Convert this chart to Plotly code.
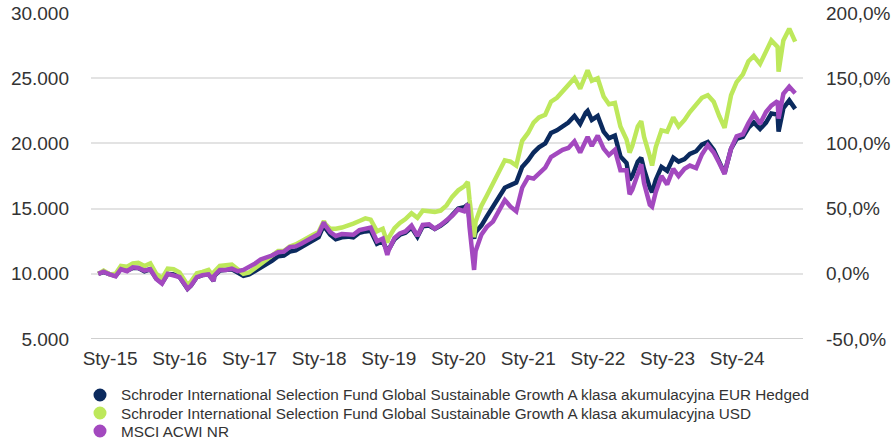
import plotly.graph_objects as go

dates = [
    "2014-10-31", "2014-11-28", "2014-12-31",
    "2015-01-30", "2015-02-27", "2015-03-31", "2015-04-30", "2015-05-29", "2015-06-30",
    "2015-07-31", "2015-08-31", "2015-09-30", "2015-10-30", "2015-11-30", "2015-12-31",
    "2016-01-29", "2016-02-11", "2016-02-29", "2016-03-31", "2016-04-29", "2016-05-31",
    "2016-06-27", "2016-06-30", "2016-07-29", "2016-08-31", "2016-09-30", "2016-10-31",
    "2016-11-30", "2016-12-30",
    "2017-01-31", "2017-02-28", "2017-03-31", "2017-04-28", "2017-05-31", "2017-06-30",
    "2017-07-31", "2017-08-31", "2017-09-29", "2017-10-31", "2017-11-30", "2017-12-29",
    "2018-01-26", "2018-01-31", "2018-02-28", "2018-03-29", "2018-04-30", "2018-05-31",
    "2018-06-29", "2018-07-31", "2018-08-31", "2018-09-28", "2018-10-31", "2018-11-30",
    "2018-12-24", "2018-12-31",
    "2019-01-31", "2019-02-28", "2019-03-29", "2019-04-30", "2019-05-31", "2019-06-28",
    "2019-07-31", "2019-08-30", "2019-09-30", "2019-10-31", "2019-11-29", "2019-12-31",
    "2020-01-31", "2020-02-19", "2020-02-28", "2020-03-23", "2020-03-31", "2020-04-30",
    "2020-05-29", "2020-06-30", "2020-07-31", "2020-08-31", "2020-09-30", "2020-10-30",
    "2020-11-30", "2020-12-31",
    "2021-01-29", "2021-02-26", "2021-03-31", "2021-04-30", "2021-05-31", "2021-06-30",
    "2021-07-30", "2021-08-31", "2021-09-30", "2021-10-29", "2021-11-08", "2021-11-30",
    "2021-12-31",
    "2022-01-31", "2022-02-28", "2022-03-31", "2022-04-29", "2022-05-31", "2022-06-16",
    "2022-06-30", "2022-07-29", "2022-08-16", "2022-08-31", "2022-09-30", "2022-10-12",
    "2022-10-31", "2022-11-30", "2022-12-30",
    "2023-01-31", "2023-02-28", "2023-03-31", "2023-04-28", "2023-05-31", "2023-06-30",
    "2023-07-31", "2023-08-31", "2023-09-29", "2023-10-27", "2023-10-31", "2023-11-30",
    "2023-12-29",
    "2024-01-31", "2024-02-29", "2024-03-28", "2024-04-30", "2024-05-31", "2024-06-28",
    "2024-07-31", "2024-08-05", "2024-08-30", "2024-09-30", "2024-10-31",
]

eur_hedged = [
    10000, 10150, 9950,
    9850, 10400, 10250, 10450, 10450, 10200,
    10350, 9650, 9300, 10000, 9950, 9750,
    9150, 8850, 9100, 9750, 9900, 9950,
    9450, 9850, 10250, 10300, 10350, 10100,
    9850, 9950,
    10250, 10550, 10750, 11000, 11350, 11400,
    11700, 11800, 12050, 12350, 12600, 12800,
    13750, 13550, 13000, 12650, 12800, 12850,
    12800, 13150, 13250, 13300, 12300, 12500,
    11750, 11850,
    12650, 13000, 13150, 13550, 12850, 13650,
    13700, 13450, 13700, 14050, 14500, 15000,
    15100, 15300, 14100, 12700, 13200, 13700,
    14400, 15100, 15850, 16600, 16800, 17000,
    18200, 18700,
    19300, 19700, 20000, 20800, 21000, 21300,
    21600, 22100, 21500, 22350, 22500, 21800,
    22100,
    20900, 20400, 20600, 19000, 18500, 17200,
    17500, 18600, 18900, 18000, 16600, 16250,
    17200, 18200, 17900,
    18900, 18600, 18800, 19200, 19400, 19900,
    20100, 19500, 18500, 17700, 17950, 19600,
    20350,
    20500, 21200, 21600, 21100, 21600, 22300,
    22200, 20900, 22700, 23300, 22650,
]

usd = [
    10000, 10250, 9950,
    10000, 10600, 10550, 10800, 10850, 10600,
    10800, 10000, 9650, 10400, 10350, 10100,
    9500, 9150, 9400, 10050, 10150, 10300,
    9750, 10150, 10600, 10650, 10700, 10350,
    10000, 10100,
    10450, 10800, 11050, 11350, 11750, 11750,
    12100, 12250, 12450, 12750, 13000, 13200,
    14050, 13850, 13450, 13450, 13550, 13750,
    13850, 14050, 14250, 14150, 13250, 13450,
    12400, 12750,
    13500, 13900, 14200, 14650, 14300, 14850,
    14800, 14750, 14850, 15250, 15900, 16400,
    16700, 17050, 15700, 12800, 14000, 15200,
    16000, 16900, 17900, 18700, 18600, 18300,
    20200, 20800,
    21600, 22000, 22200, 23200, 23500, 24000,
    24400, 25000, 24200, 25300, 25600, 24800,
    25000,
    23600, 23000, 23100, 21300, 20300, 19300,
    19800, 21300, 21700, 20500, 19000, 18300,
    19700, 21000, 20900,
    22000, 21300, 21800, 22400, 23000, 23500,
    23700, 23200, 22100, 21200, 21500, 23700,
    24700,
    25300, 26300, 26700, 26100, 27100, 27900,
    27400, 25500, 27900, 28800, 27800,
]

msci_acwi = [
    10000, 10170, 9950,
    9800, 10350, 10200, 10500, 10450, 10250,
    10350, 9600, 9250, 10000, 9900, 9750,
    9150, 8850, 9100, 9750, 9900, 9950,
    9450, 9850, 10300, 10300, 10400, 10200,
    10300, 10500,
    10800, 11100, 11250, 11400, 11650, 11700,
    12050, 12100, 12300, 12550, 12800, 13050,
    13950, 13750, 13200, 12900, 13050, 13050,
    13000, 13350, 13500, 13550, 12500, 12700,
    11450, 11800,
    12750, 13100, 13250, 13700, 12900, 13750,
    13800, 13450, 13750, 14100, 14450, 14950,
    14800, 15350, 13600, 10300, 11750, 13000,
    13600, 14000, 14750, 15650, 15150, 14800,
    16600, 17400,
    17300, 17700, 18150, 18950, 19250, 19500,
    19650, 20150, 19300, 20300, 20500, 19800,
    20600,
    19600, 19100, 19500, 17950, 17950, 16100,
    16450, 17600, 18400, 16950, 15300, 15150,
    16250, 17500, 16850,
    18050, 17500, 18050, 18300, 18100, 19150,
    19850, 19300, 18500, 17650, 17950, 19600,
    20550,
    20700, 21550, 22250, 21500, 22400, 22900,
    23250, 21900, 23800, 24350, 23850,
]

names = [
    "Schroder International Selection Fund Global Sustainable Growth A klasa akumulacyjna EUR Hedged",
    "Schroder International Selection Fund Global Sustainable Growth A klasa akumulacyjna USD",
    "MSCI ACWI NR",
]
colors = ["#0b2a5e", "#bde85b", "#a349bf"]

tick_dates = ["2015-01-01", "2016-01-01", "2017-01-01", "2018-01-01", "2019-01-01",
              "2020-01-01", "2021-01-01", "2022-01-01", "2023-01-01", "2024-01-01"]
tick_labels = ["Sty-15", "Sty-16", "Sty-17", "Sty-18", "Sty-19",
               "Sty-20", "Sty-21", "Sty-22", "Sty-23", "Sty-24"]
left_ticks = [5000, 10000, 15000, 20000, 25000, 30000]
left_labels = ["5.000", "10.000", "15.000", "20.000", "25.000", "30.000"]
right_ticks = [-0.5, 0.0, 0.5, 1.0, 1.5, 2.0]
right_labels = ["-50,0%", "0,0%", "50,0%", "100,0%", "150,0%", "200,0%"]

series = [eur_hedged, usd, msci_acwi]

W, H = 893, 442
ML, MR, MT, MB = 91, 90, 13, 103
PW, PH = W - ML - MR, H - MT - MB

fig = go.Figure()
for name, vals, col in zip(names, series, colors):
    fig.add_trace(go.Scatter(x=dates, y=vals, mode="lines", name=name,
                             line=dict(color=col, width=4.5),
                             showlegend=False, hoverinfo="skip"))
# invisible trace to activate the right axis
fig.add_trace(go.Scatter(x=[dates[0]], y=[0], yaxis="y2", mode="markers",
                         marker=dict(opacity=0), showlegend=False, hoverinfo="skip"))

font_family = "Liberation Sans, Arial, sans-serif"
text_col = "#333333"

# manual legend (circle + text), rows in pixel space converted to paper coords
legend_rows_px = [395, 413, 431]
circle_cx, circle_r, text_x = 100, 6.5, 119
shapes = [dict(type="line", xref="paper", yref="y", x0=0, x1=1, y0=5000, y1=5000,
               line=dict(color="#cfcfcf", width=2), layer="below")]
annotations = []
for row, name, col in zip(legend_rows_px, names, colors):
    cy = (H - MB - row) / PH
    r_x = circle_r / PW
    r_y = circle_r / PH
    cx = (circle_cx - ML) / PW
    shapes.append(dict(type="circle", xref="paper", yref="paper",
                       x0=cx - r_x, x1=cx + r_x, y0=cy - r_y, y1=cy + r_y,
                       fillcolor=col, line=dict(width=0)))
    annotations.append(dict(text=name, xref="paper", yref="paper",
                            x=(text_x - ML) / PW, y=cy, xanchor="left", yanchor="middle",
                            showarrow=False,
                            font=dict(size=15.3, color=text_col, family=font_family)))

fig.update_layout(
    width=W, height=H,
    margin=dict(l=ML, r=MR, t=MT, b=MB, autoexpand=False),
    paper_bgcolor="white", plot_bgcolor="white",
    showlegend=False,
    font=dict(family=font_family, color=text_col, size=19),
    xaxis=dict(
        type="date",
        range=["2014-09-23", "2024-12-11"],
        tickvals=tick_dates, ticktext=tick_labels,
        showgrid=False, showline=False, zeroline=False,
        ticks="", ticklabelstandoff=6,
        tickfont=dict(size=19, color=text_col),
    ),
    yaxis=dict(
        range=[5000, 30000], tickvals=left_ticks, ticktext=left_labels,
        showgrid=True, gridcolor="#e3e3e3", gridwidth=2,
        zeroline=False, showline=False, ticks="", ticklabelstandoff=21,
        tickfont=dict(size=19, color=text_col),
    ),
    yaxis2=dict(
        range=[-0.5, 2.0], tickvals=right_ticks, ticktext=right_labels,
        overlaying="y", side="right", showgrid=False, zeroline=False,
        showline=False, ticks="", ticklabelstandoff=22,
        tickfont=dict(size=19, color=text_col),
    ),
    shapes=shapes,
    annotations=annotations,
)

fig.write_html("out.html",
               config={"displayModeBar": False},
               post_script="document.body.style.margin='0px';document.body.style.padding='0px';")
